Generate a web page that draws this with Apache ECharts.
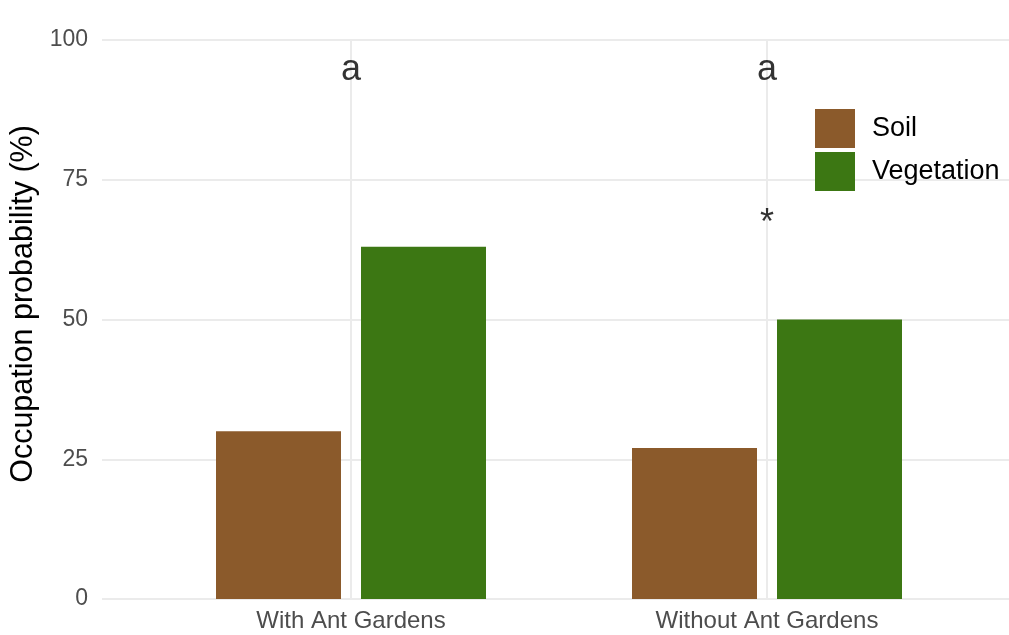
<!DOCTYPE html>
<html>
<head>
<meta charset="utf-8">
<script src="https://cdn.jsdelivr.net/npm/echarts@6/dist/echarts.min.js"></script>
<style>html,body{margin:0;padding:0;background:#fff}#c{width:1009px;height:635px}</style>
</head>
<body>
<div id="c"></div>
<script>
const categories = ['With Ant Gardens', 'Without Ant Gardens'];
const soilValues = [30, 27];
const vegetationValues = [63, 50];
const yTicks = [0, 25, 50, 75, 100];
const annotCategories = ['With Ant Gardens', 'Without Ant Gardens', 'Without Ant Gardens'];
const annotValues = [94.6, 94.6, 67.0];
const annotTexts = ['a', 'a', '*'];
const yTitle = 'Occupation probability (%)';

const FONT = '"Liberation Sans", Arial, sans-serif';
const chart = echarts.init(document.getElementById('c'));
const annotData = annotCategories.map((c, i) => ({
  value: [c, annotValues[i]],
  label: { formatter: annotTexts[i] }
}));

chart.setOption({
  animation: false,
  textStyle: { fontFamily: FONT },
  grid: [
    { left: 143, right: 34, top: 40, bottom: 36 },
    { left: 102, right: 0, top: 40, bottom: 36 }
  ],
  graphic: [{
    type: 'text', x: 24, y: 304, rotation: Math.PI / 2, silent: true,
    style: { text: yTitle, font: '30.5px ' + FONT, fill: '#000', align: 'center', verticalAlign: 'middle' }
  }],
  legend: {
    data: ['Soil', 'Vegetation'],
    orient: 'vertical',
    left: 815, top: 109, padding: 0,
    itemWidth: 40, itemHeight: 39, itemGap: 4,
    icon: 'rect',
    textStyle: { fontSize: 27, color: '#000', fontFamily: FONT, padding: [6, 0, 0, 12] }
  },
  xAxis: [
    { type: 'category', gridIndex: 0, data: categories,
      axisLine: { show: false }, axisTick: { show: false }, splitLine: { show: false },
      axisLabel: { fontSize: 24, color: '#4D4D4D', margin: 10, fontFamily: FONT } },
    { type: 'value', gridIndex: 1, show: false, min: 0, max: 1 }
  ],
  yAxis: [
    { type: 'value', gridIndex: 0, min: 0, max: 100, interval: 25, show: false },
    { type: 'value', gridIndex: 1, min: 0, max: 100, interval: 25,
      axisLine: { show: false }, axisTick: { show: false },
      axisLabel: { fontSize: 23, color: '#4D4D4D', margin: 14, fontFamily: FONT,
        formatter: v => yTicks.includes(v) ? String(v) : '' },
      splitLine: { lineStyle: { color: '#EBEBEB', width: 2 } } }
  ],
  series: [
    { type: 'line', xAxisIndex: 0, yAxisIndex: 0, data: [], z: 1, silent: true,
      markLine: { silent: true, symbol: 'none', label: { show: false },
        lineStyle: { color: '#EBEBEB', width: 2, type: 'solid' },
        data: categories.map(c => ({ xAxis: c })) } },
    { name: 'Soil', type: 'bar', xAxisIndex: 0, yAxisIndex: 0, data: soilValues,
      barWidth: 125, barGap: '16%', z: 3, itemStyle: { color: '#8B5A2B' } },
    { name: 'Vegetation', type: 'bar', xAxisIndex: 0, yAxisIndex: 0, data: vegetationValues,
      barWidth: 125, barGap: '16%', z: 3, itemStyle: { color: '#3C7713' } },
    { type: 'scatter', xAxisIndex: 0, yAxisIndex: 0, symbolSize: 0, z: 5, silent: true,
      label: { show: true, position: 'inside', color: '#000', fontSize: 36, fontFamily: FONT,
        textBorderWidth: 0 },
      data: annotData }
  ]
});
</script>
</body>
</html>
